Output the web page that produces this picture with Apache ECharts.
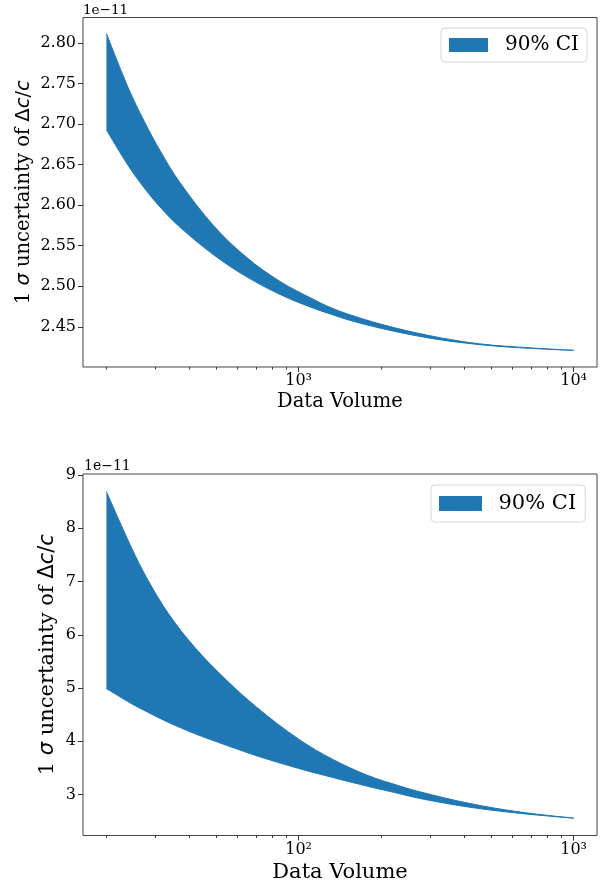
<!DOCTYPE html>
<html>
<head>
<meta charset="utf-8">
<script src="https://cdn.jsdelivr.net/npm/echarts@6/dist/echarts.min.js"></script>
<style>
  html, body { margin: 0; padding: 0; background: #fff; }
  #chart { width: 603px; height: 887px; }
</style>
</head>
<body>
<div id="chart"></div>
<script>
// top panel: data volume 200 .. 1e4
const topX = [200, 240, 275, 315, 370, 490, 645, 855, 1130, 1300, 1500, 2000, 3000, 4550, 6950, 10000]
const topUpper = [2.812, 2.745, 2.703, 2.666, 2.628, 2.575, 2.536, 2.506, 2.484, 2.474, 2.466, 2.453, 2.439, 2.429, 2.424, 2.421]
const topLower = [2.693, 2.649, 2.621, 2.597, 2.573, 2.539, 2.512, 2.490, 2.473, 2.466, 2.459, 2.448, 2.436, 2.428, 2.4234, 2.421]

// bottom panel: data volume 20 .. 1e3
const botX = [20, 24.6, 28.3, 33.6, 41.8, 54.6, 71.1, 100, 133, 178, 233, 276, 420, 640, 1000]
const botUpper = [8.69, 7.65, 7.03, 6.40, 5.77, 5.15, 4.62, 4.04, 3.66, 3.36, 3.16, 3.05, 2.83, 2.67, 2.556]
const botLower = [4.99, 4.71, 4.545, 4.355, 4.145, 3.925, 3.72, 3.49, 3.32, 3.155, 3.015, 2.925, 2.76, 2.645, 2.556]

// ticks
const topYTicks = [2.45, 2.50, 2.55, 2.60, 2.65, 2.70, 2.75, 2.80]
const botYTicks = [3, 4, 5, 6, 7, 8, 9]
const topXMajor = [1000, 10000]
const topXMinor = [200, 300, 400, 500, 600, 700, 800, 900, 2000, 3000, 4000, 5000, 6000, 7000, 8000, 9000]
const botXMajor = [100, 1000]
const botXMinor = [20, 30, 40, 50, 60, 70, 80, 90, 200, 300, 400, 500, 600, 700, 800, 900]

const BLUE = '#1f77b4'
const SERIF = 'DejaVu Serif'
const SUP = { '0': '⁰', '1': '¹', '2': '²', '3': '³', '4': '⁴', '5': '⁵' }

function powLabel(v) {
  const e = String(Math.round(Math.log10(v)))
  return '10' + e.split('').map((d) => SUP[d]).join('')
}

function yName(size) {
  return {
    name: '{t|1 }{m|σ}{t| uncertainty of }{u|Δ}{m|c}{u|/}{m|c}',
    nameTextStyle: {
      rich: {
        t: { fontFamily: SERIF, fontSize: size, color: '#000' },
        m: { fontFamily: 'DejaVu Sans', fontStyle: 'italic', fontSize: size, color: '#000' },
        u: { fontFamily: 'DejaVu Sans', fontSize: size, color: '#000' },
      },
    },
  }
}

function majorX(grid, min, max, ticks, labelSize) {
  return {
    type: 'log',
    gridIndex: grid,
    position: 'bottom',
    min,
    max,
    name: 'Data Volume',
    nameLocation: 'middle',
    nameGap: grid === 0 ? 25 : 27,
    nameTextStyle: { fontFamily: SERIF, fontSize: labelSize, color: '#000' },
    axisLine: { show: false },
    axisTick: { customValues: ticks, length: 5, lineStyle: { color: '#333' } },
    axisLabel: {
      customValues: ticks,
      formatter: powLabel,
      margin: 6,
      fontFamily: SERIF,
      fontSize: 16,
      color: '#000',
    },
    splitLine: { show: false },
  }
}

function minorX(grid, min, max, ticks) {
  return {
    type: 'log',
    gridIndex: grid,
    position: 'bottom',
    min,
    max,
    axisLine: { show: false },
    axisTick: { customValues: ticks, length: 2.5, lineStyle: { color: '#333' } },
    axisLabel: { show: false },
    splitLine: { show: false },
  }
}

// band drawn as lower bound + stacked width; columns are [value, volume]
// so that the stack runs on the y dimension
function bandSeries(xi, yi, xs, lower, upper, stack) {
  const common = {
    type: 'line',
    xAxisIndex: xi,
    yAxisIndex: yi,
    stack,
    encode: { x: 1, y: 0 },
    smooth: 0.35,
    symbol: 'none',
    color: BLUE,
    lineStyle: { color: BLUE, width: 1 },
    silent: true,
  }
  return [
    { ...common, name: 'lower', data: xs.map((x, i) => [lower[i], x]) },
    {
      ...common,
      name: '90% CI',
      areaStyle: { color: BLUE, opacity: 1 },
      data: xs.map((x, i) => [upper[i] - lower[i], x]),
    },
  ]
}

const chart = echarts.init(document.getElementById('chart'), null, { renderer: 'canvas' })

chart.setOption({
  animation: false,
  title: [
    {
      text: '1e−11', left: 83, top: 3, padding: 0,
      textStyle: { fontFamily: SERIF, fontSize: 13.5, fontWeight: 'normal', color: '#000' },
    },
    {
      text: '1e−11', left: 84, top: 459, padding: 0,
      textStyle: { fontFamily: SERIF, fontSize: 14, fontWeight: 'normal', color: '#000' },
    },
  ],
  legend: [
    {
      data: [{ name: '90% CI', icon: 'rect' }],
      left: 441,
      top: 28,
      padding: [7, 8, 7, 8],
      itemWidth: 39,
      itemHeight: 14,
      borderColor: '#d6d6d6',
      borderWidth: 1,
      borderRadius: 4,
      backgroundColor: '#fff',
      textStyle: { fontFamily: SERIF, fontSize: 20, color: '#000', padding: [0, 0, 0, 12] },
    },
    {
      data: [{ name: '90% CI', icon: 'rect' }],
      left: 431,
      top: 485,
      padding: [8, 9, 8, 8],
      itemWidth: 43,
      itemHeight: 15,
      borderColor: '#d6d6d6',
      borderWidth: 1,
      borderRadius: 4,
      backgroundColor: '#fff',
      textStyle: { fontFamily: SERIF, fontSize: 21, color: '#000', padding: [0, 0, 0, 11.5] },
    },
  ],
  grid: [
    { left: 83, right: 6, top: 17.5, height: 349.5, show: true, borderColor: '#444', borderWidth: 1 },
    { left: 83, right: 6, top: 474, height: 361.5, show: true, borderColor: '#444', borderWidth: 1 },
  ],
  xAxis: [
    majorX(0, 164.4, 12160, topXMajor, 19.5),
    minorX(0, 164.4, 12160, topXMinor),
    majorX(1, 16.44, 1216, botXMajor, 21),
    minorX(1, 16.44, 1216, botXMinor),
  ],
  yAxis: [
    {
      type: 'value',
      gridIndex: 0,
      min: 2.4004,
      max: 2.8316,
      ...yName(19.5),
      nameLocation: 'middle',
      nameMoveOverlap: false,
      nameGap: 49,
      axisLine: { show: false },
      axisTick: { customValues: topYTicks, length: 5, lineStyle: { color: '#333' } },
      axisLabel: {
        customValues: topYTicks,
        formatter: (v) => v.toFixed(2),
        margin: 7,
        fontFamily: SERIF,
        fontSize: 16,
        color: '#000',
      },
      splitLine: { show: false },
    },
    {
      type: 'value',
      gridIndex: 1,
      min: 2.23,
      max: 9.02,
      ...yName(21),
      nameLocation: 'middle',
      nameMoveOverlap: false,
      nameGap: 25,
      axisLine: { show: false },
      axisTick: { customValues: botYTicks, length: 5, lineStyle: { color: '#333' } },
      axisLabel: {
        customValues: botYTicks,
        formatter: (v) => String(v),
        margin: 7,
        fontFamily: SERIF,
        fontSize: 16,
        color: '#000',
      },
      splitLine: { show: false },
    },
  ],
  series: [
    ...bandSeries(0, 0, topX, topLower, topUpper, 'top'),
    ...bandSeries(2, 1, botX, botLower, botUpper, 'bot'),
  ],
})
</script>
</body>
</html>
